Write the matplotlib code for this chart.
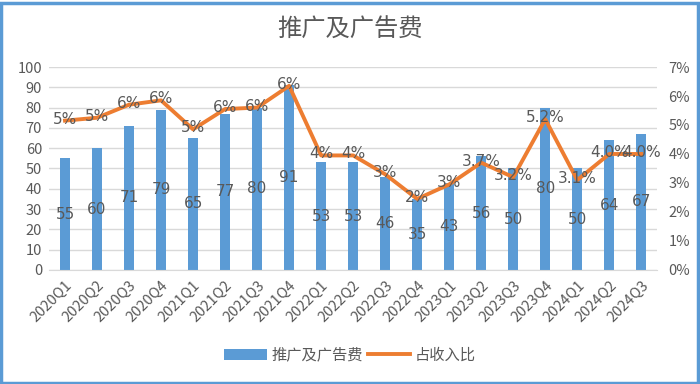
import numpy as np
import matplotlib.pyplot as plt
from matplotlib.patches import Rectangle

plt.rcParams['font.family'] = ['Noto Sans CJK SC', 'DejaVu Sans']

quarters = ['2020Q1', '2020Q2', '2020Q3', '2020Q4', '2021Q1', '2021Q2', '2021Q3', '2021Q4',
            '2022Q1', '2022Q2', '2022Q3', '2022Q4', '2023Q1', '2023Q2', '2023Q3', '2023Q4',
            '2024Q1', '2024Q2', '2024Q3']
spend = [55, 60, 71, 79, 65, 77, 80, 91, 53, 53, 46, 35, 43, 56, 50, 80, 50, 64, 67]
ratio = [5.15, 5.25, 5.7, 5.85, 4.85, 5.55, 5.6, 6.35, 3.95, 3.95, 3.3, 2.45, 2.95,
         3.7, 3.2, 5.2, 3.1, 4.0, 4.0]
ratio_labels = ['5%', '5%', '6%', '6%', '5%', '6%', '6%', '6%', '4%', '4%', '3%', '2%', '3%',
                '3.7%', '3.2%', '5.2%', '3.1%', '4.0%', '4.0%']

bar_color = '#5B9BD5'
line_color = '#ED7D31'
text_color = '#595959'

fig = plt.figure(figsize=(7, 3.84), dpi=100)
ax = fig.add_axes([0.07, 0.297, 0.869, 0.5285])
ax2 = ax.twinx()

x = np.arange(len(quarters))
bars = ax.bar(x, spend, width=0.3, color=bar_color, zorder=2, label='推广及广告费')
for xi, v in zip(x, spend):
    ax.text(xi, v / 2, str(v), ha='center', va='center', fontsize=11, color=text_color,
            family='DejaVu Sans', zorder=3)

ax.set_ylim(0, 100)
ax.set_yticks(range(0, 101, 10))
ax.set_xlim(-0.5, len(quarters) - 0.5)
ax.set_xticks(x)
ax.set_xticklabels(quarters, rotation=45, ha='right', rotation_mode='anchor')
ax.grid(axis='y', color='#D9D9D9', linewidth=1, zorder=0)
ax.tick_params(axis='y', length=0, labelsize=10.5, colors=text_color, pad=5)
ax.tick_params(axis='x', length=0, labelsize=10.5, colors=text_color, pad=6)
for s in ['top', 'left', 'right']:
    ax.spines[s].set_visible(False)
ax.spines['bottom'].set_color('#D9D9D9')

ln, = ax2.plot(x, ratio, color=line_color, linewidth=2.8, zorder=4, label='占收入比')
for xi, v, lab in zip(x, ratio, ratio_labels):
    ax2.text(xi, v + 0.05, lab, ha='center', va='center', fontsize=11, color=text_color,
             family='DejaVu Sans', zorder=5)
ax2.set_ylim(0, 7)
ax2.set_yticks(range(0, 8))
ax2.set_yticklabels([f'{i}%' for i in range(0, 8)])
ax2.tick_params(axis='y', length=0, labelsize=10.5, colors=text_color, pad=8)
for s in ['top', 'left', 'right', 'bottom']:
    ax2.spines[s].set_visible(False)

fig.text(0.5, 0.922, '推广及广告费', ha='center', va='center', fontsize=17.5, color=text_color)

fig.legend(handles=[bars, ln], labels=['推广及广告费', '占收入比'], loc='center',
           bbox_to_anchor=(0.5, 0.075), ncol=2, frameon=False, fontsize=11,
           labelcolor=text_color, handlelength=2.8, handletextpad=0.3, columnspacing=0.3)

fig.patches.append(Rectangle((0.002, 0.003), 0.995, 0.99, transform=fig.transFigure,
                             fill=False, edgecolor=bar_color, linewidth=2.5))

fig.savefig('out.png', dpi=100)
